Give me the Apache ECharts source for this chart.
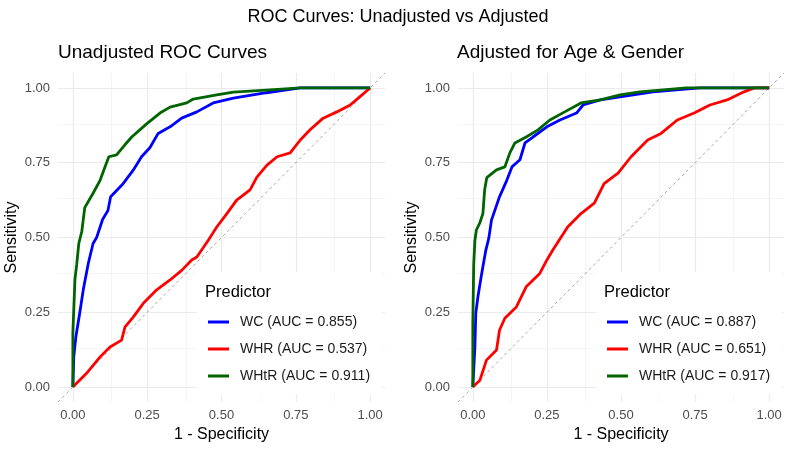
<!DOCTYPE html>
<html>
<head>
<meta charset="utf-8">
<title>ROC Curves</title>
<script src="https://cdn.jsdelivr.net/npm/echarts@6/dist/echarts.min.js"></script>
<style>
  html, body { margin: 0; padding: 0; background: #fff; }
  #chart { width: 796px; height: 453px; }
</style>
</head>
<body>
<div id="chart"></div>
<script>
// tick values for both axes
const tickValues = [0, 0.25, 0.5, 0.75, 1];
const minorValues = [0.125, 0.375, 0.625, 0.875];

// legend labels
const unadjNames = ["WC (AUC = 0.855)", "WHR (AUC = 0.537)", "WHtR (AUC = 0.911)"];
const adjNames = ["WC (AUC = 0.887)", "WHR (AUC = 0.651)", "WHtR (AUC = 0.917)"];

// [1 - specificity, sensitivity]
const unadjWC = [[0,0],[0.003,0.1],[0.01,0.167],[0.023,0.247],[0.035,0.325],[0.052,0.414],[0.068,0.48],[0.08,0.5],[0.1,0.56],[0.118,0.59],[0.127,0.636],[0.169,0.68],[0.203,0.725],[0.231,0.77],[0.259,0.8],[0.287,0.848],[0.327,0.87],[0.366,0.899],[0.417,0.92],[0.472,0.95],[0.54,0.966],[0.651,0.984],[0.765,1],[1,1]];
const unadjWHR = [[0,0],[0.046,0.046],[0.091,0.1],[0.125,0.134],[0.164,0.157],[0.175,0.2],[0.203,0.234],[0.237,0.28],[0.282,0.325],[0.327,0.358],[0.366,0.39],[0.4,0.425],[0.417,0.435],[0.455,0.49],[0.484,0.535],[0.518,0.58],[0.551,0.625],[0.596,0.659],[0.619,0.702],[0.653,0.742],[0.687,0.77],[0.731,0.783],[0.765,0.826],[0.798,0.86],[0.842,0.899],[0.888,0.92],[0.933,0.943],[0.96,0.966],[1,1]];
const unadjWHtR = [[0,0],[0,0.18],[0.007,0.36],[0.013,0.41],[0.02,0.48],[0.03,0.52],[0.04,0.6],[0.068,0.648],[0.091,0.69],[0.108,0.736],[0.121,0.77],[0.147,0.776],[0.175,0.81],[0.198,0.836],[0.248,0.88],[0.293,0.916],[0.327,0.936],[0.383,0.95],[0.405,0.963],[0.484,0.977],[0.54,0.986],[0.65,0.993],[0.765,1],[1,1]];

const adjWC = [[0,0],[0.007,0.134],[0.01,0.247],[0.017,0.3],[0.03,0.38],[0.044,0.458],[0.054,0.498],[0.063,0.558],[0.09,0.636],[0.115,0.692],[0.132,0.736],[0.159,0.76],[0.176,0.816],[0.203,0.836],[0.25,0.87],[0.294,0.893],[0.35,0.916],[0.372,0.943],[0.43,0.96],[0.497,0.97],[0.608,0.987],[0.767,1],[1,1]];
const adjWHR = [[0,0],[0.024,0.023],[0.046,0.09],[0.08,0.124],[0.09,0.19],[0.108,0.23],[0.147,0.268],[0.18,0.335],[0.226,0.38],[0.25,0.425],[0.27,0.458],[0.32,0.535],[0.365,0.58],[0.41,0.615],[0.443,0.68],[0.49,0.715],[0.534,0.77],[0.59,0.826],[0.635,0.848],[0.69,0.893],[0.747,0.916],[0.8,0.943],[0.858,0.96],[0.915,0.987],[0.95,1],[1,1]];
const adjWHtR = [[0,0],[0,0.21],[0.003,0.41],[0.007,0.49],[0.012,0.525],[0.024,0.55],[0.034,0.58],[0.04,0.66],[0.047,0.7],[0.08,0.726],[0.108,0.736],[0.125,0.783],[0.142,0.816],[0.18,0.836],[0.22,0.86],[0.26,0.893],[0.31,0.92],[0.365,0.95],[0.43,0.96],[0.497,0.977],[0.564,0.987],[0.72,1],[1,1]];

const colors = ["#0000FF", "#FF0000", "#006400"];
const font = "Liberation Sans, Arial, sans-serif";

let myChart = echarts.init(document.getElementById("chart"));

function makeAxis(name, idx, isX) {
  return {
    type: "value",
    gridIndex: idx,
    min: -0.05,
    max: 1.05,
    name: name,
    nameLocation: "middle",
    nameGap: isX ? 25 : 38,
    nameTextStyle: { color: "#000", fontSize: 16, fontFamily: font },
    axisLine: { show: false },
    axisTick: { show: false },
    splitLine: { show: false },
    axisLabel: {
      customValues: tickValues,
      formatter: (v) => v.toFixed(2),
      color: "#4D4D4D",
      fontSize: 13,
      fontFamily: font,
      margin: isX ? 7 : 8,
    },
  };
}

// grid lines drawn as markLines so they span the full panel
function gridSeries(idx) {
  let lines = [];
  minorValues.forEach((v) => {
    lines.push({ xAxis: v, lineStyle: { color: "#F2F2F2", width: 0.8 } });
    lines.push({ yAxis: v, lineStyle: { color: "#F2F2F2", width: 0.8 } });
  });
  tickValues.forEach((v) => {
    lines.push({ xAxis: v, lineStyle: { color: "#EBEBEB", width: 1.2 } });
    lines.push({ yAxis: v, lineStyle: { color: "#EBEBEB", width: 1.2 } });
  });
  return {
    type: "line",
    xAxisIndex: idx,
    yAxisIndex: idx,
    data: [],
    silent: true,
    z: 1,
    markLine: {
      z: 1,
      silent: true,
      symbol: ["none", "none"],
      label: { show: false },
      animation: false,
      lineStyle: { type: "solid" },
      data: lines,
    },
  };
}

function diagSeries(idx) {
  return {
    type: "line",
    xAxisIndex: idx,
    yAxisIndex: idx,
    data: [[-0.05, -0.05], [1.05, 1.05]],
    symbol: "none",
    silent: true,
    z: 2,
    lineStyle: { color: "#8F8F8F", width: 0.8, type: [3, 3] },
  };
}

function curve(name, data, color, idx) {
  return {
    name: name,
    type: "line",
    xAxisIndex: idx,
    yAxisIndex: idx,
    data: data,
    symbol: "none",
    showSymbol: false,
    z: 3,
    color: color,
    lineStyle: { color: color, width: 2.8 },
  };
}

function makeLegend(names, left) {
  return {
    data: names,
    orient: "vertical",
    left: left,
    top: 272,
    padding: [42, 12, 10, 11],
    backgroundColor: "#fff",
    icon: "rect",
    itemWidth: 21,
    itemHeight: 3,
    itemGap: 11,
    selectedMode: false,
    textStyle: {
      color: "#1A1A1A",
      fontSize: 14,
      fontFamily: font,
      lineHeight: 16,
      padding: [0, 0, 0, 6],
    },
  };
}

let options = {
  animation: false,
  title: [
    { text: "ROC Curves: Unadjusted vs Adjusted", left: "center", top: 6, padding: 0,
      textStyle: { fontSize: 18, fontWeight: "normal", color: "#000", fontFamily: font, lineHeight: 22 } },
    { text: "Unadjusted ROC Curves", left: 58, top: 42, padding: 0,
      textStyle: { fontSize: 19, fontWeight: "normal", color: "#000", fontFamily: font, lineHeight: 22 } },
    { text: "Adjusted for Age & Gender", left: 457, top: 42, padding: 0,
      textStyle: { fontSize: 19, fontWeight: "normal", color: "#000", fontFamily: font, lineHeight: 22 } },
    { text: "Predictor", left: 205, top: 282, padding: 0, z: 10,
      textStyle: { fontSize: 16.5, fontWeight: "normal", color: "#000", fontFamily: font, lineHeight: 20 } },
    { text: "Predictor", left: 604, top: 282, padding: 0, z: 10,
      textStyle: { fontSize: 16.5, fontWeight: "normal", color: "#000", fontFamily: font, lineHeight: 20 } },
  ],
  legend: [makeLegend(unadjNames, 197), makeLegend(adjNames, 596)],
  grid: [
    { left: 58, top: 73, width: 327, height: 329 },
    { left: 458, top: 73, width: 326, height: 329 },
  ],
  xAxis: [makeAxis("1 - Specificity", 0, true), makeAxis("1 - Specificity", 1, true)],
  yAxis: [makeAxis("Sensitivity", 0, false), makeAxis("Sensitivity", 1, false)],
  series: [
    gridSeries(0),
    gridSeries(1),
    diagSeries(0),
    diagSeries(1),
    curve(unadjNames[0], unadjWC, colors[0], 0),
    curve(unadjNames[1], unadjWHR, colors[1], 0),
    curve(unadjNames[2], unadjWHtR, colors[2], 0),
    curve(adjNames[0], adjWC, colors[0], 1),
    curve(adjNames[1], adjWHR, colors[1], 1),
    curve(adjNames[2], adjWHtR, colors[2], 1),
  ],
};
myChart.setOption(options);
</script>
</body>
</html>
